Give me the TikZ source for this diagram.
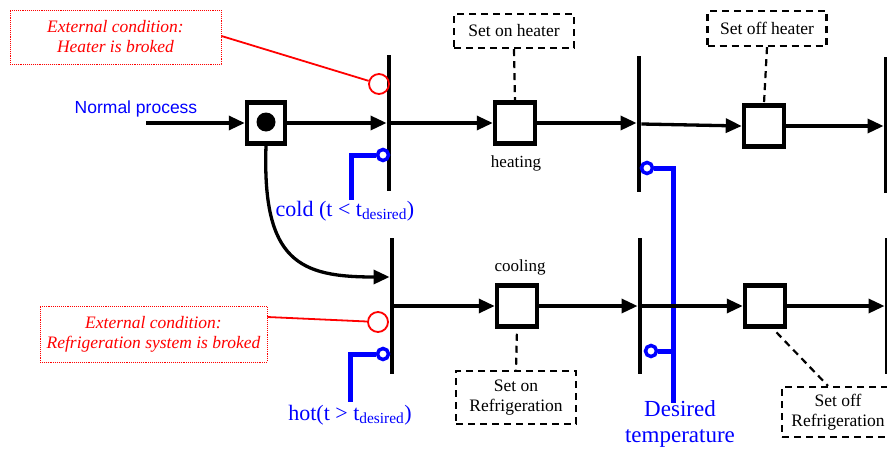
\documentclass[tikz,border=0pt]{standalone}
\usepackage{fontspec}
\setmainfont{Liberation Serif}
\setsansfont{Liberation Sans}
\usetikzlibrary{arrows.meta}
\begin{document}
\begin{tikzpicture}[x=1pt,y=-1pt,
  place/.style={draw,line width=4.5pt,minimum width=40pt,minimum height=41pt,inner sep=0pt,fill=white},
  trans/.style={fill=black,minimum width=4.5pt,minimum height=136pt,inner sep=0pt},
  arc/.style={line width=3.3pt,-{Triangle[length=16pt,width=14pt]}},
  inh/.style={circle,draw=blue,line width=3.5pt,minimum size=11pt,inner sep=0pt},
  bl/.style={blue,line width=5pt},
  cond/.style={draw=red,densely dotted,line width=0.9pt,text=red,font=\itshape\fontsize{17.5}{20}\selectfont,align=center,inner sep=0pt},
  redc/.style={circle,draw=red,line width=1.8pt,minimum size=20pt,inner sep=0pt},
  act/.style={draw,line width=2.2pt,dash pattern=on 7pt off 5pt,align=center,font=\fontsize{17.5}{20}\selectfont,inner sep=0pt},
  dline/.style={line width=2.2pt,dash pattern=on 7pt off 5pt},
  lbl/.style={font=\fontsize{17}{19}\selectfont}
]
\useasboundingbox (0,0) rectangle (887,450);

% transitions
\node[trans] (t1) at (389,123) {};
\node[trans] (t2) at (392,306) {};
\node[trans] (t3) at (639,124) {};
\node[trans] (t4) at (640,306) {};
\node[trans] (t5) at (886,125) {};
\node[trans] (t6) at (887,306) {};

% blue inhibitor lines (under arcs)
\coordinate (i1end) at (351,200);
\coordinate (i2end) at (350,402);
\coordinate (dt) at (673,403);
\node[inh] (i1) at (383,155) {};
\node[inh] (i2) at (383,354) {};
\node[inh] (i3) at (647,168) {};
\node[inh] (i4) at (651,351) {};
\draw[bl] (i1.west) -| (i1end);
\draw[bl] (i2.west) -| (i2end);
\draw[bl] (i3.east) -| (dt);
\draw[bl] (i4.east) -- (i4.east -| dt);

% places
\node[place,minimum width=38pt] (p0) at (266,123) {};
\node[circle,fill=black,minimum width=17pt,minimum height=19pt,inner sep=0pt] (tok) at (266,122) {};
\node[place] (heat) at (515,123) {};
\node[place] (off1) at (764,126) {};
\node[place] (cool) at (517,306) {};
\node[place] (off2) at (765,306) {};

% arcs
\coordinate (start) at (146,123);
\draw[arc] (start) -- (p0.west);
\draw[arc] (p0.east) -- (t1.west);
\draw[arc] (t1.east) -- (heat.west);
\draw[arc] (heat.east) -- (heat.east -| t3.west);
\draw[arc] (t3.east) -- (off1.west);
\draw[arc] (off1.east) -- (off1.east -| t5.west);
\draw[arc] (p0.south) .. controls (262,262) and (300,277) .. ([yshift=29pt]t2.west);
\draw[arc] (t2.east) -- (cool.west);
\draw[arc] (cool.east) -- (t4.west);
\draw[arc] (t4.east) -- (off2.west);
\draw[arc] (off2.east) -- (t6.west);

% place labels
\node[lbl] (heatlbl) at (516,163) {heating};
\node[lbl] (coollbl) at (520,267) {cooling};

% action boxes
\node[act,minimum width=120pt,minimum height=34pt] (a1) at (514,31) {Set on heater};
\node[act,minimum width=119pt,minimum height=35pt] (a2) at (767,28.5) {Set off heater};
\node[act,minimum width=120pt,minimum height=53pt] (a3) at (516,397.5) {Set on\\Refrigeration};
\node[act,minimum width=112pt,minimum height=50pt] (a4) at (838,412) {Set off\\Refrigeration};
\draw[dline] (a1.south) -- (heat.north);
\draw[dline] (a2.south) -- (off1.north);
\draw[dline,shorten <=5pt] (cool.south) -- (a3.north);
\draw[dline,shorten <=5pt] ([xshift=8pt]off2.south) -- ([xshift=-10pt]a4.north);

% external conditions
\node[cond,minimum width=211pt,minimum height=54pt] (c1) at (115.5,37) {External condition:\\Heater is broked};
\node[cond,minimum width=227pt,minimum height=56pt] (c2) at (153.5,334) {External condition:\\Refrigeration system is broked};
\node[redc] (r1) at (379,84) {};
\node[redc] (r2) at (378,322) {};
\draw[red,line width=1.8pt] ([yshift=1pt]c1.east) -- (r1);
\draw[red,line width=1.8pt] ([yshift=17pt]c2.east) -- (r2);

% blue texts
\node[font=\sffamily\fontsize{17.5}{20}\selectfont,text=blue] (np) at (136,109) {Normal process};
\node[text=blue,font=\fontsize{22}{24}\selectfont] (cold) at (345,211) {cold (t < t\textsubscript{desired})};
\node[text=blue,font=\fontsize{22}{24}\selectfont] (hot) at (350,415) {hot(t > t\textsubscript{desired})};
\node[text=blue,align=center,font=\fontsize{23}{26}\selectfont] (dtl) at (680,424) {Desired\\temperature};
\end{tikzpicture}
\end{document}
